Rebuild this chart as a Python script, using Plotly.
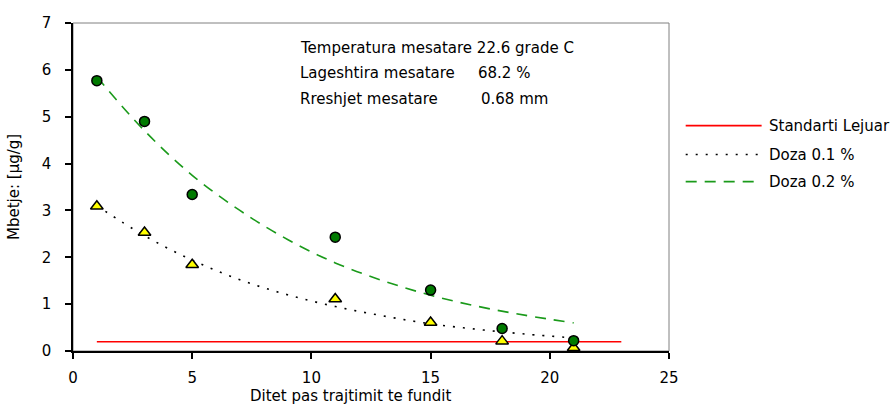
import plotly.graph_objects as go

# ---------------- data ----------------
days = [1, 3, 5, 11, 15, 18, 21]
doza_01 = [3.09, 2.53, 1.84, 1.11, 0.61, 0.21, 0.07]
doza_02 = [5.77, 4.90, 3.34, 2.43, 1.30, 0.48, 0.22]

trend_days = [1, 3, 5, 7, 9, 11, 13, 15, 17, 19, 21]
trend_01 = [3.10, 2.46, 1.94, 1.52, 1.20, 0.95, 0.75, 0.58, 0.46, 0.36, 0.28]
trend_02 = [5.85, 4.70, 3.75, 3.00, 2.38, 1.88, 1.50, 1.19, 0.95, 0.76, 0.60]

standard_days = [1, 23]
standard_value = [0.2, 0.2]

x_ticks = [0, 5, 10, 15, 20, 25]
y_ticks = [0, 1, 2, 3, 4, 5, 6, 7]

legend_names = ["Standarti Lejuar", "Doza 0.1 %", "Doza 0.2 %"]
info_lines = ["Temperatura mesatare 22.6 grade C",
              "Lageshtira mesatare", "Rreshjet mesatare"]
info_values = ["68.2 %", "0.68 mm"]
x_title = "Ditet pas trajtimit te fundit"
y_title = "Mbetje: [µg/g]"

FONT = "DejaVu Sans"
FS = 15

RED = "#ff0000"
BLACK = "#000000"
GREEN_LINE = "#1a9a1a"
GREEN_MARK = "#007a00"
YELLOW = "#ffff00"

DOT = "2px,8px"
DASH = "11px,8px"

fig = go.Figure()

fig.add_trace(go.Scatter(
    x=standard_days, y=standard_value, mode="lines", name=legend_names[0],
    line=dict(color=RED, width=1.5), showlegend=False))
fig.add_trace(go.Scatter(
    x=trend_days, y=trend_01, mode="lines", name=legend_names[1],
    line=dict(color=BLACK, width=1.6, dash=DOT, shape="spline"),
    showlegend=False))
fig.add_trace(go.Scatter(
    x=trend_days, y=trend_02, mode="lines", name=legend_names[2],
    line=dict(color=GREEN_LINE, width=1.6, dash=DASH, shape="spline"),
    showlegend=False))

fig.add_trace(go.Scatter(
    x=days, y=doza_01, mode="markers", showlegend=False, name="Doza 0.1 % (matje)",
    marker=dict(symbol="triangle-up", size=11, color=YELLOW,
                line=dict(color=BLACK, width=1.5))))
fig.add_trace(go.Scatter(
    x=days, y=doza_02, mode="markers", showlegend=False, name="Doza 0.2 % (matje)",
    marker=dict(symbol="circle", size=10, color=GREEN_MARK,
                line=dict(color=BLACK, width=1.5))))

# plot-area border (top/right grey)
fig.add_shape(type="rect", xref="paper", yref="paper", x0=0, x1=1, y0=0, y1=1,
              line=dict(color="#808080", width=1), layer="below")

# legend (drawn in paper coordinates to get the long key samples)
legend_styles = [(RED, None), (BLACK, DOT), (GREEN_LINE, DASH)]
legend_y = [0.687, 0.599, 0.5165]
for name, (col, dsh), ly in zip(legend_names, legend_styles, legend_y):
    ln = dict(color=col, width=1.6)
    if dsh:
        ln["dash"] = dsh
    fig.add_shape(type="line", xref="paper", yref="paper",
                  x0=1.028, x1=1.1554, y0=ly, y1=ly, line=ln)
    fig.add_annotation(xref="paper", yref="paper", x=1.1638, y=ly,
                       xanchor="left", yanchor="middle", showarrow=False,
                       text=name, font=dict(family=FONT, size=FS, color="black"))

# info text
info_pos = [(0.378, 0.925), (0.378, 0.849), (0.378, 0.769)]
for txt, (px, py) in zip(info_lines, info_pos):
    fig.add_annotation(xref="paper", yref="paper", x=px, y=py,
                       xanchor="left", yanchor="middle", showarrow=False,
                       text=txt, font=dict(family=FONT, size=FS, color="black"))
for txt, (px, py) in zip(info_values, [(0.676, 0.849), (0.681, 0.769)]):
    fig.add_annotation(xref="paper", yref="paper", x=px, y=py,
                       xanchor="left", yanchor="middle", showarrow=False,
                       text=txt, font=dict(family=FONT, size=FS, color="black"))

# axis titles
fig.add_annotation(xref="paper", yref="paper", x=0.466, y=-0.1385,
                   xanchor="center", yanchor="middle", showarrow=False,
                   text=x_title, font=dict(family=FONT, size=FS, color="black"))
fig.add_annotation(xref="paper", yref="paper", x=-0.099, y=0.5,
                   xanchor="center", yanchor="middle", showarrow=False,
                   textangle=-90,
                   text=y_title, font=dict(family=FONT, size=FS, color="black"))

fig.update_layout(
    width=896, height=405,
    margin=dict(l=73, r=227, t=23, b=54),
    paper_bgcolor="white", plot_bgcolor="white",
    font=dict(family=FONT, size=FS, color="black"),
    showlegend=False,
    xaxis=dict(range=[0, 25], tickvals=x_ticks, showgrid=False, zeroline=False,
               showline=True, linecolor="black", linewidth=1.5,
               ticks="outside", ticklen=6, tickcolor="black", tickwidth=1.5,
               ticklabelstandoff=6),
    yaxis=dict(range=[0, 7], tickvals=y_ticks, showgrid=False, zeroline=False,
               showline=True, linecolor="black", linewidth=1.5,
               ticks="outside", ticklen=6, tickcolor="black", tickwidth=1.5,
               ticklabelstandoff=11),
)

fig.write_html("out.html")
